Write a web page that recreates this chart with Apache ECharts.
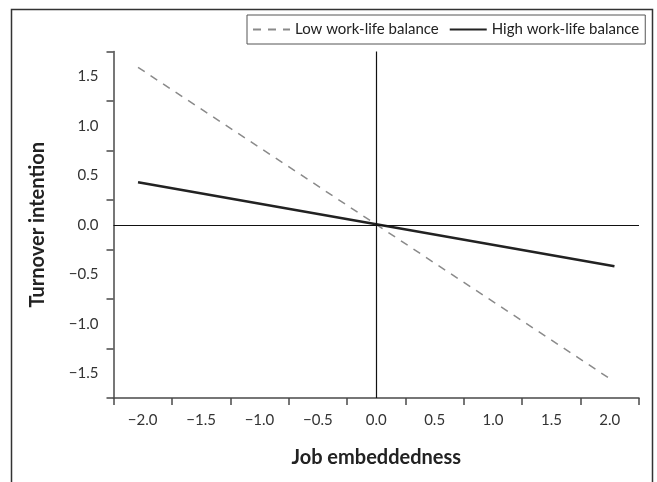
<!DOCTYPE html>
<html>
<head>
<meta charset="utf-8">
<script src="https://cdn.jsdelivr.net/npm/echarts@6/dist/echarts.min.js"></script>
<style>
html,body{margin:0;padding:0;background:#fff;}
#chart{width:657px;height:482px;}
</style>
</head>
<body>
<div id="chart"></div>
<script>
// Tick labels (category bands, ticks between labels)
const xTickLabels = ['−2.0','−1.5','−1.0','−0.5','0.0','0.5','1.0','1.5','2.0'];
const yTickLabels = ['−1.5','−1.0','−0.5','0.0','0.5','1.0','1.5'];
// Series values: [job embeddedness, turnover intention]
const lowWLB = [[-2.04, 1.59], [2.02, -1.57]];
const highWLB = [[-2.04, 0.43], [2.04, -0.42]];
const seriesNames = ['Low work-life balance', 'High work-life balance'];

const FONT = 'Lato';
const axisColor = '#4a4a4a';

const chart = echarts.init(document.getElementById('chart'), null, {renderer:'canvas'});
chart.setOption({
  animation: false,
  textStyle: {fontFamily: FONT},
  graphic: [{
    type: 'rect',
    shape: {x: 11.5, y: 9.5, width: 641, height: 520},
    style: {fill: 'none', stroke: '#333', lineWidth: 1.5},
    silent: true
  }],
  legend: {
    left: 247, top: 15,
    orient: 'horizontal',
    borderColor: '#555', borderWidth: 1,
    padding: [7, 6, 7, 5],
    itemWidth: 37, itemHeight: 14, itemGap: 10,
    itemStyle: {opacity: 0},
    textStyle: {fontFamily: FONT, fontSize: 15, color: '#222'},
    data: seriesNames
  },
  grid: {left: 113.5, right: 18, top: 51.5, bottom: 84, containLabel: false},
  xAxis: [{
    type: 'category',
    data: xTickLabels,
    boundaryGap: true,
    name: 'Job embeddedness',
    nameLocation: 'middle',
    nameGap: 50,
    nameTextStyle: {fontFamily: FONT, fontSize: 20, fontWeight: 'bold', color: '#222'},
    axisLine: {onZero: false, lineStyle: {color: axisColor, width: 1.5}},
    axisTick: {show: true, alignWithLabel: false, length: 7, lineStyle: {color: axisColor, width: 1.5}},
    axisLabel: {fontFamily: FONT, fontSize: 15, color: '#333', margin: 15},
    splitLine: {show: false}
  }, {
    type: 'value', min: -2.25, max: 2.25, show: false
  }],
  yAxis: [{
    type: 'category',
    data: yTickLabels,
    boundaryGap: true,
    name: 'Turnover intention',
    nameLocation: 'middle',
    nameGap: 66,
    nameRotate: 90,
    nameTextStyle: {fontFamily: FONT, fontSize: 20, fontWeight: 'bold', color: '#222'},
    axisLine: {onZero: false, lineStyle: {color: axisColor, width: 1.5}},
    axisTick: {show: true, alignWithLabel: false, length: 7, lineStyle: {color: axisColor, width: 1.5}},
    axisLabel: {fontFamily: FONT, fontSize: 15, color: '#333', margin: 15},
    splitLine: {show: false}
  }, {
    type: 'value', min: -1.75, max: 1.75, show: false
  }],
  series: [{
    name: seriesNames[0],
    type: 'line',
    xAxisIndex: 1, yAxisIndex: 1,
    data: lowWLB,
    symbol: 'none',
    lineStyle: {color: '#8a8a8a', width: 1.5, type: [8, 7]},
    itemStyle: {color: '#8a8a8a'}
  }, {
    name: seriesNames[1],
    type: 'line',
    xAxisIndex: 1, yAxisIndex: 1,
    data: highWLB,
    symbol: 'none',
    lineStyle: {color: '#222', width: 2.5},
    itemStyle: {color: '#222'},
    markLine: {
      silent: true,
      symbol: ['none', 'none'],
      label: {show: false},
      lineStyle: {color: '#111', width: 1.2, type: 'solid'},
      data: [{xAxis: 0}, {yAxis: 0}]
    }
  }]
});
</script>
</body>
</html>
